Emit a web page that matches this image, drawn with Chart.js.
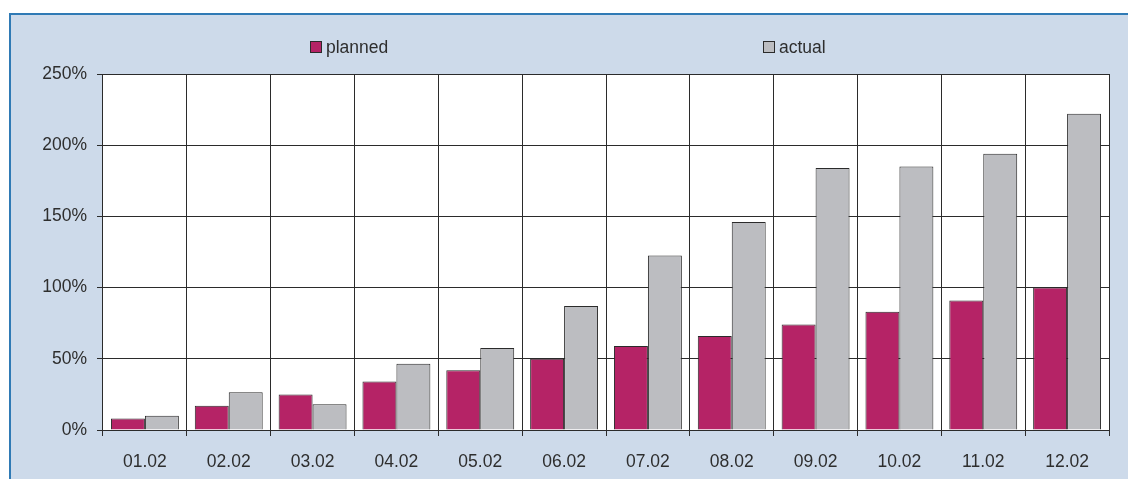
<!DOCTYPE html>
<html>
<head>
<meta charset="utf-8">
<script src="https://cdn.jsdelivr.net/npm/chart.js@4/dist/chart.umd.min.js"></script>
<style>
  html, body { margin: 0; padding: 0; background: #ffffff; }
  #wrap { position: absolute; left: 0; top: 0; width: 1128px; height: 479px; }
</style>
</head>
<body>
<div id="wrap"><canvas id="c" width="1128" height="479"></canvas></div>
<script>
const categories = ['01.02', '02.02', '03.02', '04.02', '05.02', '06.02', '07.02', '08.02', '09.02', '10.02', '11.02', '12.02'];
const plannedValues = [8, 17, 25, 34, 42, 50, 59, 66, 74, 83, 91, 100];
const actualValues = [10, 26.5, 18, 46.5, 57.5, 87, 122.5, 146, 184, 185, 194, 222];
const yTicks = [0, 50, 100, 150, 200, 250];

const FONT = "'Liberation Sans', Arial, sans-serif";
const TEXT = '#2e2e2e';
const LINE = '#2b2b2b';

const frame = {
  id: 'frame',
  beforeDraw(chart) {
    const ctx = chart.ctx;
    ctx.save();
    ctx.fillStyle = '#cddaea';
    ctx.fillRect(10, 14, 1118, 465);
    ctx.strokeStyle = '#2f7ab5';
    ctx.lineWidth = 2;
    ctx.beginPath();
    ctx.moveTo(10, 479);
    ctx.lineTo(10, 14);
    ctx.lineTo(1128, 14);
    ctx.stroke();
    const a = chart.chartArea;
    ctx.fillStyle = '#ffffff';
    ctx.fillRect(a.left, a.top, a.right - a.left, a.bottom - a.top);
    ctx.restore();
  },
  afterDraw(chart) {
    const ctx = chart.ctx;
    ctx.save();
    const positions = [310, 763];
    chart.data.datasets.forEach((ds, i) => {
      const x = positions[i];
      const y = 41;
      ctx.fillStyle = ds.backgroundColor;
      ctx.fillRect(x, y, 12, 12);
      ctx.strokeStyle = LINE;
      ctx.lineWidth = 1;
      ctx.strokeRect(x + 0.5, y + 0.5, 11, 11);
      ctx.fillStyle = TEXT;
      ctx.font = '17.5px ' + FONT;
      ctx.textBaseline = 'alphabetic';
      ctx.textAlign = 'left';
      ctx.fillText(ds.label, x + 16, y + 12);
    });
    ctx.restore();
  }
};

new Chart(document.getElementById('c'), {
  type: 'bar',
  data: {
    labels: categories,
    datasets: [
      { label: 'planned', data: plannedValues, backgroundColor: '#b52366', borderColor: LINE, borderWidth: 1 },
      { label: 'actual', data: actualValues, backgroundColor: '#bcbdc1', borderColor: LINE, borderWidth: 1 }
    ]
  },
  options: {
    responsive: false,
    animation: false,
    devicePixelRatio: 1,
    layout: { padding: { left: 10, top: 74, right: 19, bottom: 0 } },
    datasets: { bar: { categoryPercentage: 0.81, barPercentage: 1.0 } },
    plugins: {
      legend: { display: false },
      tooltip: { enabled: false }
    },
    scales: {
      x: {
        grid: { color: LINE, lineWidth: 1, tickLength: 6, offset: true, drawTicks: true },
        border: { display: false },
        ticks: { color: TEXT, font: { family: FONT, size: 17.5 }, padding: 16, maxRotation: 0 },
        afterFit(scale) { scale.height = 49; }
      },
      y: {
        min: 0,
        max: 250,
        afterBuildTicks(scale) { scale.ticks = yTicks.map(v => ({ value: v })); },
        grid: { color: LINE, lineWidth: 1, tickLength: 6, drawTicks: true },
        border: { display: false },
        ticks: { color: TEXT, font: { family: FONT, size: 17.5 }, padding: 10, callback: v => v + '%' },
        afterFit(scale) { scale.width = 93; }
      }
    }
  },
  plugins: [frame]
});
</script>
</body>
</html>
